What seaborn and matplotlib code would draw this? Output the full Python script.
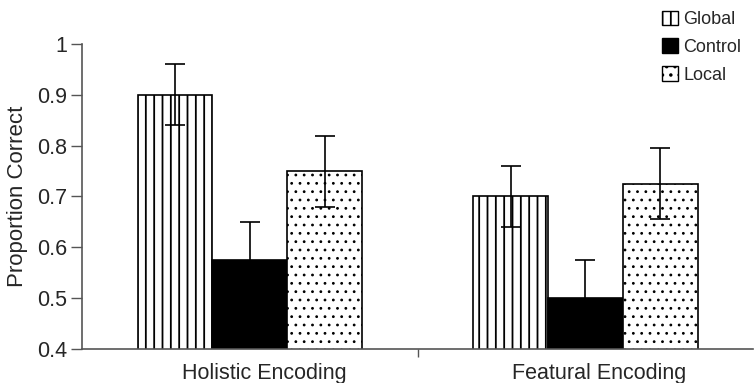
import matplotlib
matplotlib.use("Agg")
import matplotlib.pyplot as plt
import matplotlib.transforms as mtransforms
import seaborn as sns
import pandas as pd
from matplotlib.patches import Patch

encodings = ["Holistic Encoding", "Featural Encoding"]
conditions = ["Global", "Control", "Local"]
values = {"Global": [0.90, 0.70], "Control": [0.575, 0.50], "Local": [0.75, 0.725]}
errors = {"Global": [0.06, 0.06], "Control": [0.075, 0.075], "Local": [0.07, 0.07]}
yticks = [0.4, 0.5, 0.6, 0.7, 0.8, 0.9, 1.0]
ytick_labels = ["0.4", "0.5", "0.6", "0.7", "0.8", "0.9", "1"]

rows = []
for c in conditions:
    for i, e in enumerate(encodings):
        rows.append({"encoding": e, "condition": c, "value": values[c][i], "err": errors[c][i]})
df = pd.DataFrame(rows)

sns.set_theme(style="white")
plt.rcParams['font.family'] = ['Liberation Sans', 'DejaVu Sans']
plt.rcParams['hatch.linewidth'] = 1.3
plt.rcParams['hatch.color'] = 'black'

fig = plt.figure(figsize=(7.54, 3.83), dpi=100)
ax = fig.add_axes([0.109, 0.089, 0.89, 0.796])

palette = {"Global": "white", "Control": "black", "Local": "white"}
hatches = {"Global": "||", "Control": "", "Local": ".."}
sns.barplot(data=df, x="encoding", y="value", hue="condition", order=encodings,
            hue_order=conditions, palette=palette, edgecolor="black", linewidth=1.2,
            width=0.67, errorbar=None, ax=ax, legend=False)

bars = [p for p in ax.patches]
idx = 0
for c in conditions:
    for i, e in enumerate(encodings):
        p = bars[idx]
        p.set_hatch(hatches[c])
        if c == "Local" and hasattr(p, "set_hatch_linewidth"):
            p.set_hatch_linewidth(0.8)
        cx = p.get_x() + p.get_width() / 2
        ax.errorbar(cx, values[c][i], yerr=errors[c][i], fmt="none", ecolor="black",
                    elinewidth=1.2, capsize=7, capthick=1.2, zorder=5)
        idx += 1

fs = 15.5
ax.set_ylim(0.4, 1.0)
ax.set_xlim(-0.5, 1.5)
ax.set_yticks(yticks)
ax.set_yticklabels(ytick_labels, fontsize=fs)
ax.set_xticks([0.5], minor=True)
ax.set_xticks([0, 1])
ax.set_xticklabels(encodings, fontsize=fs)
ax.tick_params(axis="x", which="major", length=0, pad=10)
ax.tick_params(axis="x", which="minor", length=6, width=1, color="#555555", direction="out", bottom=True)
ax.tick_params(axis="y", length=8, width=1, color="#555555", direction="out", left=True, labelsize=fs, pad=3)
offset = mtransforms.ScaledTranslation(0.14, 0, fig.dpi_scale_trans)
for lbl in ax.get_xticklabels():
    lbl.set_transform(lbl.get_transform() + offset)
ax.set_xlabel("")
ax.set_ylabel("Proportion Correct", fontsize=16, labelpad=6)
for s in ["top", "right"]:
    ax.spines[s].set_visible(False)
for s in ["left", "bottom"]:
    ax.spines[s].set_color("#555555")
    ax.spines[s].set_linewidth(1.2)

handles = [Patch(facecolor=palette[c], edgecolor="black", hatch=hatches[c], label=c) for c in conditions]
fig.legend(handles=handles, loc="upper right", bbox_to_anchor=(1.005, 1.015), frameon=False,
           fontsize=13, handlelength=0.9, handleheight=0.9, handletextpad=0.3, labelspacing=0.55)

fig.savefig("out.png", dpi=100)
